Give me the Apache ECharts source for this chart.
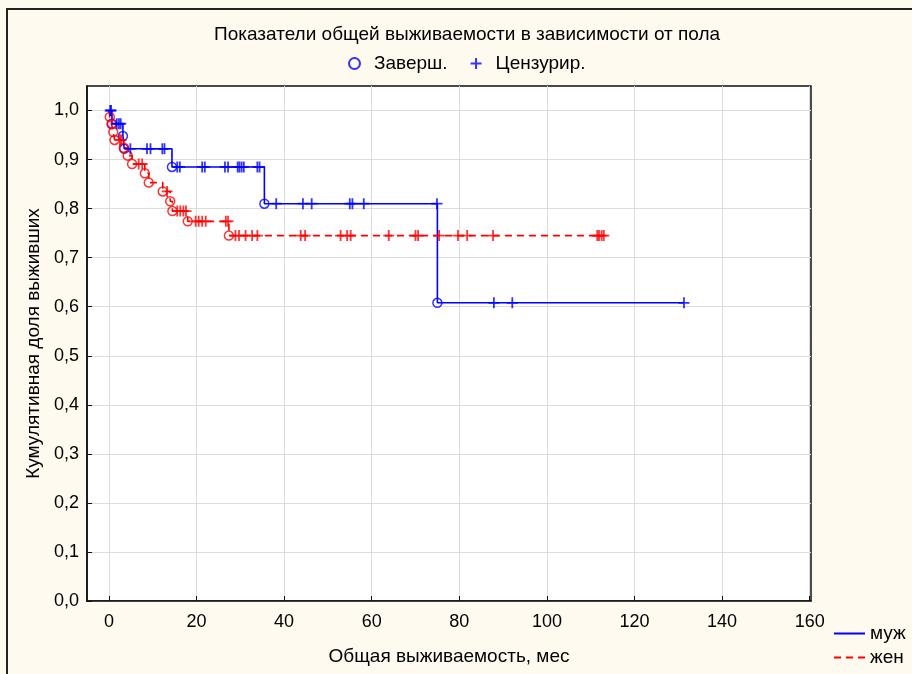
<!DOCTYPE html>
<html>
<head>
<meta charset="utf-8">
<script src="https://cdn.jsdelivr.net/npm/echarts@6/dist/echarts.min.js"></script>
<style>
  html, body { margin: 0; padding: 0; background: #fffaf0; }
  #chart { width: 912px; height: 674px; }
</style>
</head>
<body>
<div id="chart"></div>
<script>
// Kaplan–Meier survival by sex: event times with survival after the drop,
// and censoring times (their level is taken from the curve).
const maleEvents = [[0.7, 0.973], [3.2, 0.948], [3.5, 0.922], [14.4, 0.885], [35.5, 0.810], [75.0, 0.608]];
const maleCensored = [0.3, 0.5, 1.8, 2.3, 2.7, 4.9, 8.7, 9.5, 12.2, 12.7, 15.6, 16.2, 21.3, 21.9, 26.5, 27.2,
  29.4, 29.8, 30.3, 30.8, 33.9, 34.4, 38.2, 44.3, 46.3, 55.0, 55.6, 58.2, 74.9, 87.9, 92.1, 131.3];

const femaleEvents = [[0.2, 0.987], [0.6, 0.972], [1.0, 0.956], [1.3, 0.940], [3.4, 0.924], [4.3, 0.908],
  [5.3, 0.891], [8.2, 0.872], [9.1, 0.853], [12.3, 0.835], [14.0, 0.815], [14.5, 0.795], [18.0, 0.774], [27.4, 0.745]];
const femaleCensored = [2.5, 2.8, 6.8, 7.6, 13.3, 15.6, 16.3, 17.0, 17.6, 19.8, 20.5, 21.3, 22.1, 26.7, 27.2,
  28.9, 29.7, 31.2, 32.7, 33.9, 43.8, 44.8, 52.9, 54.4, 55.2, 63.9, 70.0, 70.6, 75.4, 79.7, 81.8, 87.7,
  111.5, 111.9, 112.5, 113.0];

const xTicks = [0, 20, 40, 60, 80, 100, 120, 140, 160];
const yTicks = [0, 0.1, 0.2, 0.3, 0.4, 0.5, 0.6, 0.7, 0.8, 0.9, 1.0];

const groupNames = ['муж', 'жен'];
const markerNames = ['Заверш.', 'Цензурир.'];

const BLUE = '#0000ff';
const RED = '#ff0000';
const FONT = '"Liberation Sans", Arial, sans-serif';
const PLUS = 'path://M0,5L10,5M5,0L5,10';
const TEXT_SIZE = 19;
const TICK_SIZE = 18;

// level of the step curve just after time t
function levelAt(events, t) {
  let s = 1;
  for (const [et, es] of events) { if (et <= t) s = es; }
  return s;
}

function stepCurve(events, censored) {
  const pts = [[0, 1]].concat(events.map(e => [e[0], e[1]]));
  const tEnd = Math.max(...censored, ...events.map(e => e[0]));
  pts.push([tEnd, levelAt(events, tEnd)]);
  return pts;
}

function censorPoints(events, censored) {
  return censored.map(t => [t, levelAt(events, t)]);
}

function curveSeries(name, events, censored, color, dashed) {
  return {
    name, type: 'line', step: 'end', symbol: 'none', showSymbol: false, z: 2,
    data: stepCurve(events, censored),
    lineStyle: { color, width: 1.6, type: dashed ? [7, 5] : 'solid' },
    itemStyle: { color }
  };
}

function eventSeries(events, color) {
  return {
    name: markerNames[0], type: 'scatter', symbol: 'circle', symbolSize: 9, z: 3,
    data: events,
    itemStyle: { color: 'rgba(0,0,0,0)', borderColor: color, borderWidth: 1.5 }
  };
}

function censorSeries(events, censored, color) {
  return {
    name: markerNames[1], type: 'scatter', symbol: PLUS, symbolSize: 11, z: 4,
    data: censorPoints(events, censored),
    itemStyle: { color: 'rgba(0,0,0,0)', borderColor: color, borderWidth: 1.8 }
  };
}

function groupLegend(name, top) {
  return {
    data: [name], left: 828, top, itemWidth: 31, itemHeight: 12, itemGap: 4,
    textStyle: { fontFamily: FONT, fontSize: TEXT_SIZE, color: '#000' },
    itemStyle: { opacity: 0 },
    selectedMode: false
  };
}

const chart = echarts.init(document.getElementById('chart'), null, { renderer: 'canvas' });

chart.setOption({
  animation: false,
  backgroundColor: '#fffaf0',
  textStyle: { fontFamily: FONT },
  title: {
    text: 'Показатели общей выживаемости в зависимости от пола',
    left: 209, top: 20,
    textStyle: { fontFamily: FONT, fontSize: TEXT_SIZE, fontWeight: 'normal', color: '#000' }
  },
  legend: [
    {
      data: markerNames, left: 343, top: 49, itemWidth: 11, itemHeight: 11, itemGap: 22,
      textStyle: { fontFamily: FONT, fontSize: TEXT_SIZE, color: '#000', padding: [0, 0, 0, 9] },
      selectedMode: false
    },
    groupLegend(groupNames[0], 619),
    groupLegend(groupNames[1], 643)
  ],
  graphic: [
    { type: 'rect', shape: { x: 7, y: 9, width: 940, height: 700 }, style: { fill: 'none', stroke: '#222', lineWidth: 2 }, silent: true }
  ],
  grid: {
    left: 87, top: 86, width: 724, height: 515,
    show: true, backgroundColor: '#ffffff', borderColor: '#111', borderWidth: 1.5
  },
  xAxis: {
    type: 'value', min: -5, max: 160.3,
    name: 'Общая выживаемость, мес', nameLocation: 'middle', nameGap: 46,
    nameTextStyle: { fontFamily: FONT, fontSize: TEXT_SIZE, color: '#000' },
    axisLine: { show: true, onZero: false, lineStyle: { color: '#111', width: 1.5 } },
    axisTick: { show: true, inside: true, length: 5, customValues: xTicks, lineStyle: { color: '#111' } },
    axisLabel: { customValues: xTicks, fontFamily: FONT, fontSize: TICK_SIZE, color: '#000', margin: 12 },
    splitLine: { show: true, lineStyle: { color: '#dcdcdc', width: 1 } }
  },
  yAxis: {
    type: 'value', min: 0, max: 1.05,
    name: 'Кумулятивная доля выживших', nameLocation: 'middle', nameGap: 44,
    nameTextStyle: { fontFamily: FONT, fontSize: TEXT_SIZE, color: '#000' },
    axisLine: { show: true, onZero: false, lineStyle: { color: '#111', width: 1.5 } },
    axisTick: { show: true, inside: true, length: 5, customValues: yTicks, lineStyle: { color: '#111' } },
    axisLabel: {
      customValues: yTicks, fontFamily: FONT, fontSize: TICK_SIZE, color: '#000', margin: 8,
      formatter: v => v.toFixed(1).replace('.', ',')
    },
    splitLine: { show: true, lineStyle: { color: '#dcdcdc', width: 1 } }
  },
  series: [
    curveSeries(groupNames[0], maleEvents, maleCensored, BLUE, false),
    curveSeries(groupNames[1], femaleEvents, femaleCensored, RED, true),
    eventSeries(maleEvents, BLUE),
    censorSeries(maleEvents, maleCensored, BLUE),
    eventSeries(femaleEvents, RED),
    censorSeries(femaleEvents, femaleCensored, RED)
  ]
});
</script>
</body>
</html>
